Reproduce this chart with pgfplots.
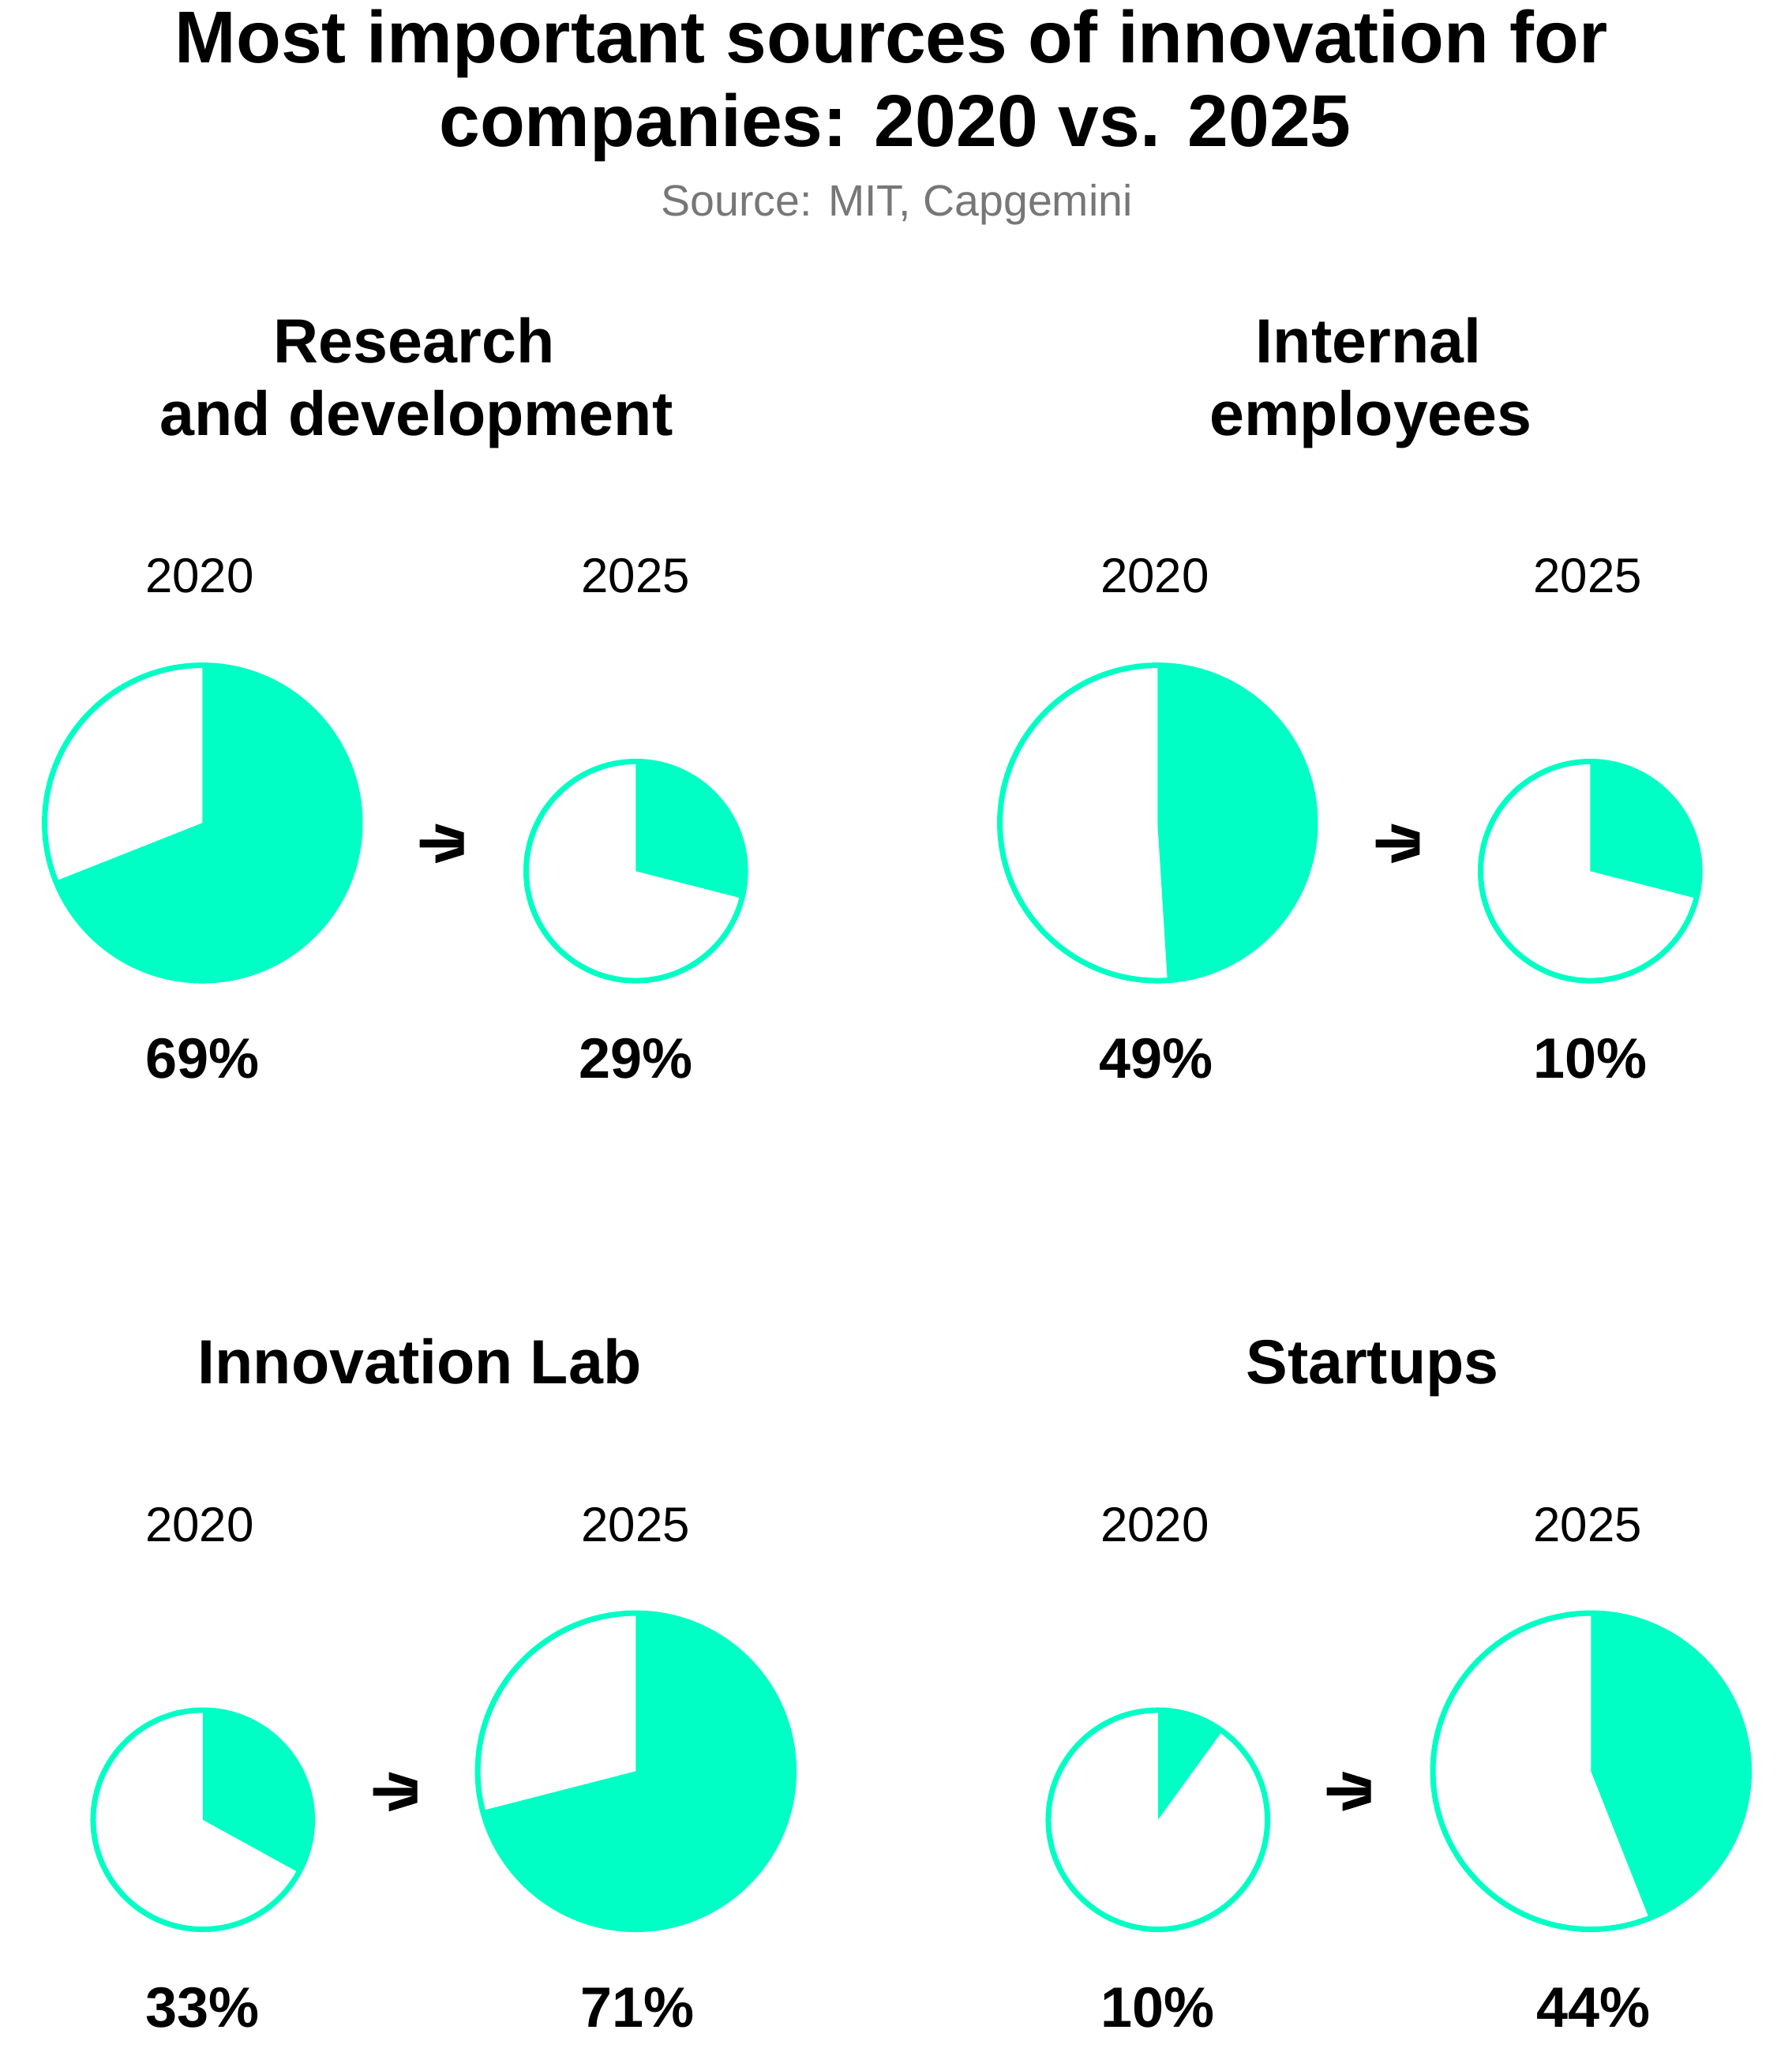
\documentclass[border=0pt]{standalone}
\usepackage{fontspec}
\setmainfont{Liberation Sans}
\usepackage{pgfplots}
\pgfplotsset{compat=1.18}
\definecolor{innov}{HTML}{00FFC4}
\definecolor{srcgray}{HTML}{777777}
% pie: centre x, centre y (px), outer radius (px), share in percent
\newcommand{\pie}[4]{%
  \fill[innov] (axis cs:#1,#2) -- ++(90:{(#3-3.5)*0.01cm}) arc[start angle=90, end angle={90-3.6*#4}, radius={(#3-3.5)*0.01cm}] -- cycle;
  \draw[innov, line width=0.07cm] (axis cs:#1,#2) circle[radius={(#3-3.5)*0.01cm}];
}
\newcommand{\arr}[2]{%
  \fill[black, shift={(axis cs:#1,#2)}] (0.20cm,0.25cm) -- (0.56cm,0.14cm) -- (0.56cm,-0.14cm) -- (0.20cm,-0.25cm) -- (0.20cm,-0.15cm) -- (0.51cm,-0.05cm) -- (0cm,-0.05cm) -- (0cm,0.05cm) -- (0.51cm,0.05cm) -- (0.20cm,0.15cm) -- cycle;
}
\newcommand{\yr}[3]{\node[anchor=base, font=\fontsize{17.6}{20}\selectfont] at (axis cs:#1,#2) {#3};}
\newcommand{\pct}[3]{\node[anchor=base, font=\fontsize{20.5}{24}\selectfont\bfseries] at (axis cs:#1,#2) {#3\%};}
\newcommand{\hd}[3]{\node[anchor=base, font=\fontsize{22.5}{26}\selectfont\bfseries] at (axis cs:#1,#2) {#3};}
\begin{document}
\begin{tikzpicture}
\begin{axis}[at={(0,0)}, anchor=south west, scale only axis,
  width=22.71cm, height=26.04cm,
  xmin=0, xmax=2271, ymin=0, ymax=2604, y dir=reverse,
  hide axis, clip=false]
\path (axis cs:0,0) rectangle (axis cs:2271,2604);
% titles
\node[anchor=base, font=\fontsize{26.5}{30}\selectfont\bfseries] at (axis cs:1130,77) {Most important sources of innovation for};
\node[anchor=base, font=\fontsize{26.5}{30}\selectfont\bfseries] at (axis cs:1135,183) {companies: 2020 vs. 2025};
\node[anchor=base, font=\fontsize{15.8}{18}\selectfont, text=srcgray] at (axis cs:1137,272) {Source: MIT, Capgemini};
% section headings
\hd{525}{458}{Research}
\hd{528}{550}{and development}
\hd{1735}{458}{Internal}
\hd{1738}{550}{employees}
\hd{532}{1752}{Innovation Lab}
\hd{1740}{1752}{Startups}
% year labels
\yr{253}{749}{2020}
\yr{806}{749}{2025}
\yr{1464}{749}{2020}
\yr{2013}{749}{2025}
\yr{253}{1952}{2020}
\yr{806}{1952}{2025}
\yr{1464}{1952}{2020}
\yr{2013}{1952}{2025}
% pies (value = share drawn in the reference picture)
\pie{256.5}{1041}{203.5}{69}
\pie{806}{1102}{142.5}{29}
\pie{1467.5}{1041}{203.5}{49}
\pie{2016}{1102}{142.5}{29}
\pie{257}{2304.5}{142.5}{33}
\pie{806}{2243}{204}{71}
\pie{1468}{2304.5}{142.5}{10}
\pie{2017}{2243}{204}{44}
% arrows
\arr{532}{1067}
\arr{1744}{1067}
\arr{473}{2269}
\arr{1682}{2268.5}
% percentages
\pct{257}{1364}{69}
\pct{806}{1364}{29}
\pct{1466}{1364}{49}
\pct{2016}{1364}{10}
\pct{257}{2567}{33}
\pct{808}{2567}{71}
\pct{1468}{2567}{10}
\pct{2020}{2567}{44}
\end{axis}
\end{tikzpicture}
\end{document}
